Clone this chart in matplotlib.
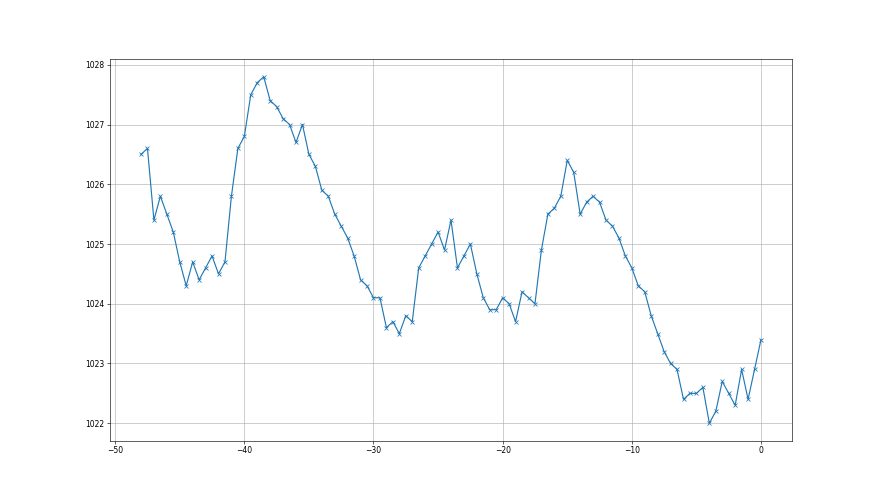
import matplotlib
matplotlib.use("Agg")
import matplotlib.pyplot as plt
import numpy as np

# hours relative to now, half-hour steps
hours = np.arange(-48, 0.01, 0.5)

pressure = [
    1026.5, 1026.6, 1025.4, 1025.8, 1025.5, 1025.2, 1024.7, 1024.3, 1024.7, 1024.4,
    1024.6, 1024.8, 1024.5, 1024.7, 1025.8, 1026.6, 1026.8, 1027.5, 1027.7, 1027.8,
    1027.4, 1027.3, 1027.1, 1027.0,
    1026.7, 1027.0, 1026.5, 1026.3, 1025.9, 1025.8, 1025.5, 1025.3, 1025.1, 1024.8,
    1024.4, 1024.3, 1024.1, 1024.1, 1023.6, 1023.7, 1023.5, 1023.8, 1023.7, 1024.6,
    1024.8, 1025.0, 1025.2, 1024.9, 1025.4, 1024.6,
    1024.8, 1025.0, 1024.5, 1024.1, 1023.9, 1023.9, 1024.1, 1024.0, 1023.7, 1024.2,
    1024.1, 1024.0, 1024.9, 1025.5, 1025.6, 1025.8, 1026.4, 1026.2, 1025.5, 1025.7,
    1025.8, 1025.7, 1025.4, 1025.3, 1025.1, 1024.8,
    1024.6, 1024.3, 1024.2, 1023.8, 1023.5, 1023.2, 1023.0, 1022.9, 1022.4, 1022.5,
    1022.5, 1022.6, 1022.0, 1022.2, 1022.7, 1022.5, 1022.3, 1022.9, 1022.4, 1022.9,
    1023.4,
]

fig, ax = plt.subplots(figsize=(16, 9), dpi=55)
ax.plot(hours, pressure, marker="x")
ax.grid(True)

fig.savefig("out.png", dpi=55)
